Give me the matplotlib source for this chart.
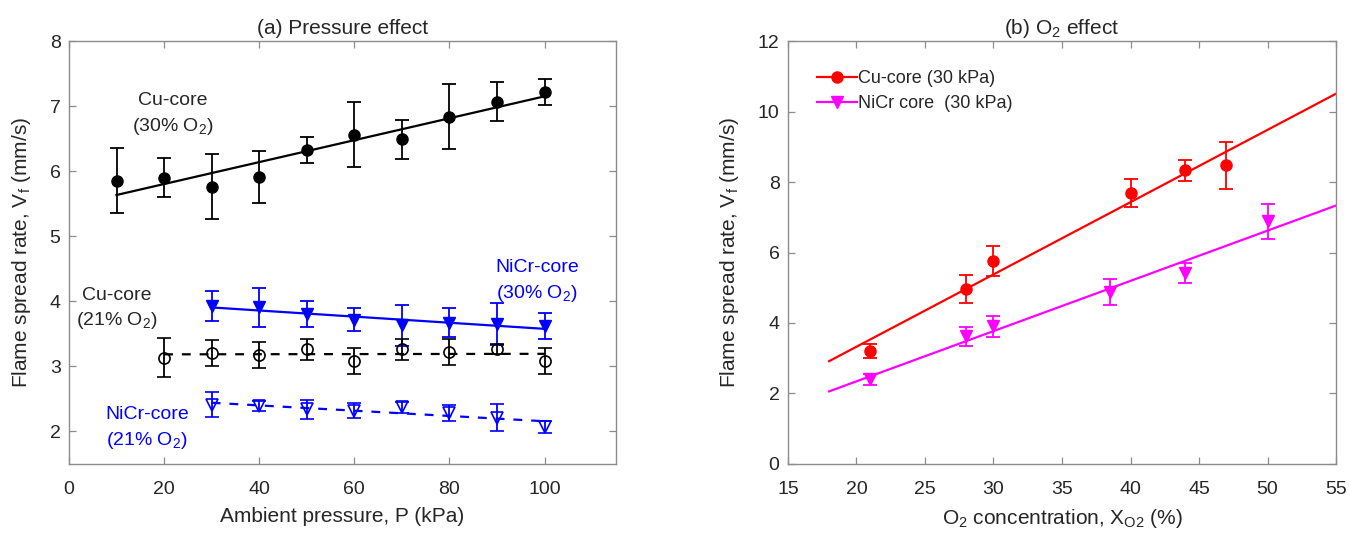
import numpy as np
import matplotlib
matplotlib.use("Agg")
import matplotlib.pyplot as plt

plt.rcParams['font.family'] = ['Liberation Sans', 'DejaVu Sans']
plt.rcParams['mathtext.fontset'] = 'custom'
plt.rcParams['mathtext.rm'] = 'Liberation Sans'
plt.rcParams['mathtext.it'] = 'Liberation Sans'

# ---------------- Panel (a) data ----------------
P_cu30 = [10, 20, 30, 40, 50, 60, 70, 80, 90, 100]
V_cu30 = [5.85, 5.90, 5.76, 5.91, 6.33, 6.56, 6.49, 6.84, 7.07, 7.21]
E_cu30 = [0.50, 0.30, 0.50, 0.40, 0.20, 0.50, 0.30, 0.50, 0.30, 0.20]

P_ni30 = [30, 40, 50, 60, 70, 80, 90, 100]
V_ni30 = [3.93, 3.91, 3.80, 3.72, 3.63, 3.67, 3.65, 3.62]
E_ni30 = [0.23, 0.30, 0.20, 0.18, 0.31, 0.22, 0.32, 0.20]

P_cu21 = [20, 30, 40, 50, 60, 70, 80, 90, 100]
V_cu21 = [3.13, 3.21, 3.18, 3.26, 3.09, 3.26, 3.22, 3.27, 3.08]
E_cu21 = [0.30, 0.20, 0.20, 0.16, 0.20, 0.16, 0.20, 0.08, 0.20]

P_ni21 = [30, 40, 50, 60, 70, 80, 90, 100]
V_ni21 = [2.41, 2.39, 2.34, 2.32, 2.37, 2.28, 2.21, 2.07]
E_ni21 = [0.19, 0.08, 0.15, 0.11, 0.08, 0.12, 0.21, 0.09]

# ---------------- Panel (b) data ----------------
X_cu = [21, 28, 30, 40, 44, 47]
V_cu = [3.20, 4.97, 5.76, 7.69, 8.33, 8.47]
E_cu = [0.20, 0.39, 0.43, 0.40, 0.30, 0.67]

X_ni = [21, 28, 30, 38.5, 44, 50]
V_ni = [2.40, 3.62, 3.91, 4.88, 5.42, 6.88]
E_ni = [0.15, 0.27, 0.30, 0.37, 0.28, 0.50]

xticks_a = [0, 20, 40, 60, 80, 100]
yticks_a = [2, 3, 4, 5, 6, 7, 8]
xticks_b = [15, 20, 25, 30, 35, 40, 45, 50, 55]
yticks_b = [0, 2, 4, 6, 8, 10, 12]

BLUE = (0, 0, 1)
RED = (1, 0, 0)
MAG = (1, 0, 1)
SPINE = '#8c8c8c'
TXT = '#262626'

fig = plt.figure(figsize=(13.49, 5.33), dpi=100)
axa = fig.add_axes([0.0511, 0.1295, 0.4055, 0.7935])
axb = fig.add_axes([0.5841, 0.1295, 0.4063, 0.7935])


def style(ax):
    for s in ax.spines.values():
        s.set_color(SPINE)
        s.set_linewidth(1.0)
    ax.tick_params(direction='in', top=True, right=True, length=5,
                   width=0.9, color=SPINE, labelcolor=TXT, labelsize=14)
    ax.tick_params(axis='x', pad=12)
    ax.tick_params(axis='y', pad=6)


def fitline(ax, x, y, xr, color, ls):
    c = np.polyfit(x, y, 1)
    xs = np.array(xr, dtype=float)
    ax.plot(xs, np.polyval(c, xs), color=color, ls=ls, lw=1.6, zorder=2)


# Panel (a)
ekw = dict(capsize=5, elinewidth=1.3, capthick=1.3, ls='none', zorder=3)
axa.errorbar(P_cu30, V_cu30, yerr=E_cu30, fmt='o', color='k', ms=8, **ekw)
fitline(axa, P_cu30, V_cu30, [10, 100], 'k', '-')
axa.errorbar(P_ni30, V_ni30, yerr=E_ni30, fmt='v', color=BLUE, ms=8, **ekw)
fitline(axa, P_ni30, V_ni30, [30, 100], BLUE, '-')
axa.errorbar(P_cu21, V_cu21, yerr=E_cu21, fmt='o', color='k', mfc='none',
             ms=8, mew=1.2, **ekw)
fitline(axa, P_cu21, V_cu21, [20, 100], 'k', (0, (4, 4)))
axa.errorbar(P_ni21, V_ni21, yerr=E_ni21, fmt='v', color=BLUE, mfc='none',
             ms=8, mew=1.2, **ekw)
fitline(axa, P_ni21, V_ni21, [30, 100], BLUE, (0, (4, 4)))

axa.set_xlim(0, 115)
axa.set_ylim(1.5, 8)
axa.set_xticks(xticks_a)
axa.set_yticks(yticks_a)
style(axa)
axa.set_title('(a) Pressure effect', fontsize=15, color=TXT, pad=5)
axa.set_xlabel('Ambient pressure, P (kPa)', fontsize=15, color=TXT, labelpad=7)
axa.set_ylabel('Flame spread rate, V$_\\mathregular{f}$ (mm/s)', fontsize=15,
               color=TXT, labelpad=12)

tkw = dict(fontsize=14, ha='center', va='center', linespacing=1.45)
axa.text(21.8, 6.87, 'Cu-core\n(30% O$_\\mathregular{2}$)', color=TXT, **tkw)
axa.text(10.0, 3.88, 'Cu-core\n(21% O$_\\mathregular{2}$)', color=TXT, **tkw)
axa.text(98.4, 4.31, 'NiCr-core\n(30% O$_\\mathregular{2}$)', color=BLUE, **tkw)
axa.text(16.4, 2.05, 'NiCr-core\n(21% O$_\\mathregular{2}$)', color=BLUE, **tkw)

# Panel (b)
axb.errorbar(X_cu, V_cu, yerr=E_cu, fmt='o', color=RED, ms=8, **ekw)
axb.errorbar(X_ni, V_ni, yerr=E_ni, fmt='v', color=MAG, ms=9, **ekw)
fitline(axb, X_cu, V_cu, [18, 55], RED, '-')
fitline(axb, X_ni, V_ni, [18, 55], MAG, '-')
h1, = axb.plot([], [], '-o', color=RED, ms=8, lw=1.6)
h2, = axb.plot([], [], '-v', color=MAG, ms=9, lw=1.6)
axb.legend([h1, h2], ['Cu-core (30 kPa)', 'NiCr core  (30 kPa)'],
           loc='upper left', frameon=False, fontsize=13, handlelength=2.2,
           handletextpad=0.1, labelspacing=0.45, borderaxespad=1.2,
           labelcolor=TXT)

axb.set_xlim(15, 55)
axb.set_ylim(0, 12)
axb.set_xticks(xticks_b)
axb.set_yticks(yticks_b)
style(axb)
axb.set_title('(b) O$_\\mathregular{2}$ effect', fontsize=15, color=TXT, pad=5)
axb.set_xlabel('O$_\\mathregular{2}$ concentration, X$_\\mathregular{O2}$ (%)',
               fontsize=15, color=TXT, labelpad=7)
axb.set_ylabel('Flame spread rate, V$_\\mathregular{f}$ (mm/s)', fontsize=15,
               color=TXT, labelpad=12)

fig.savefig('out.png', dpi=100)
